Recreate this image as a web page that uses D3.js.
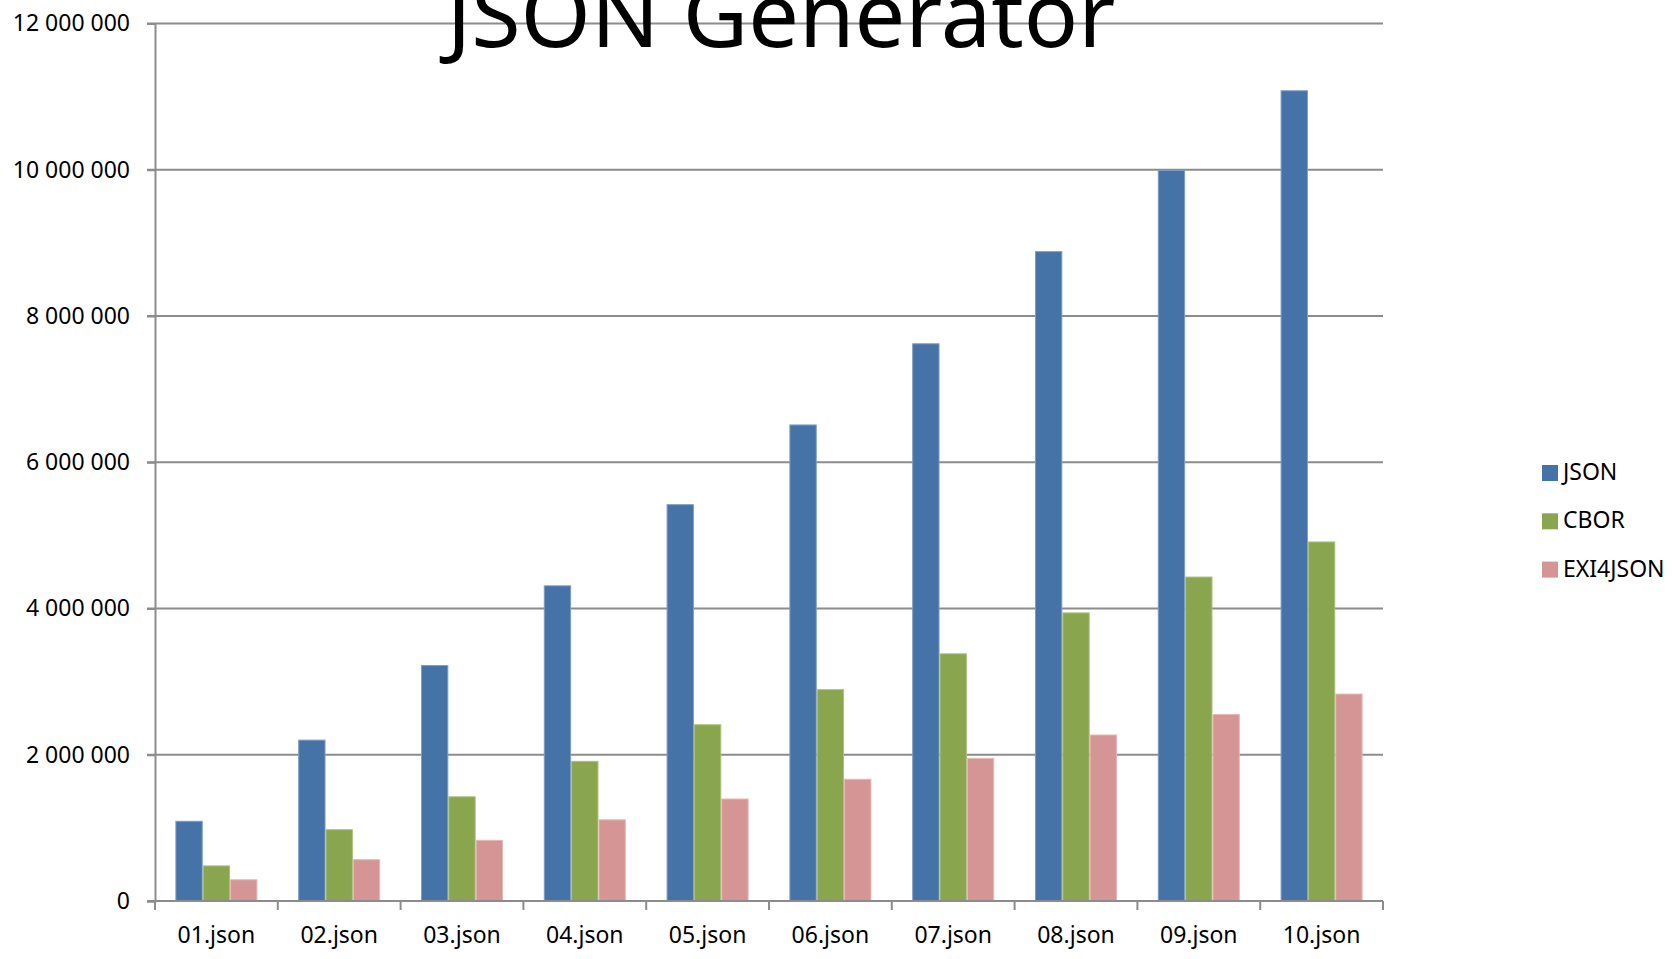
<!DOCTYPE html>
<html>
<head>
<meta charset="utf-8">
<script src="https://cdn.jsdelivr.net/npm/d3@7"></script>
<style>
	body { margin: 0; background: #fff; }
	text { font-family: "Noto Sans", sans-serif; fill: #000; }
</style>
</head>
<body>
<div id="chart"></div>
<script>
(function(){
	var width = 1672,
		height = 959;

	// data
	var files = ["01.json","02.json","03.json","04.json","05.json","06.json","07.json","08.json","09.json","10.json"];
	var series = ["JSON","CBOR","EXI4JSON"];
	var jsonValues = [1090000,2200000,3220000,4310000,5420000,6510000,7620000,8880000,9990000,11080000];
	var cborValues = [480000,975000,1425000,1910000,2410000,2890000,3380000,3940000,4430000,4910000];
	var exiValues = [290000,565000,830000,1110000,1395000,1665000,1950000,2270000,2550000,2830000];
	var yTicks = [0,2000000,4000000,6000000,8000000,10000000,12000000];
	var colors = ["#4572A7","#89A54E","#D49594"];
	var strokes = ["#7F9CC4","#A9C07E","#E6B8B7"];

	var values = [jsonValues, cborValues, exiValues];

	var left = 155, right = 1383, top = 23.5, bottom = 901;

	var svg = d3.select("#chart")
		.append("svg")
		.attr("width", width)
		.attr("height", height)

	var x = d3.scaleBand().domain(files).range([left, right])
	var xInner = d3.scaleBand().domain(series)
		.range([x.bandwidth()*0.166, x.bandwidth()*0.834])
	var y = d3.scaleLinear().domain([0, 12000000]).range([bottom, top])

	var fmt = function(d){ return d3.format(",")(d).replace(/,/g, " ") }

	// gridlines
	svg.append("g")
		.selectAll("line")
		.data(yTicks.filter(function(d){ return d > 0 }))
		.enter().append("line")
		.attr("x1", left - 8)
		.attr("x2", right)
		.attr("y1", function(d){ return y(d) })
		.attr("y2", function(d){ return y(d) })
		.attr("stroke", "#8c8c8c")
		.attr("stroke-width", 2)

	// bars
	var groups = svg.append("g")
		.selectAll("g")
		.data(files)
		.enter().append("g")
		.attr("transform", function(d){ return "translate(" + x(d) + ",0)" })

	groups.selectAll("rect")
		.data(function(d, i){
			return series.map(function(s, j){ return {s: s, j: j, v: values[j][i]} })
		})
		.enter().append("rect")
		.attr("x", function(d){ return xInner(d.s) + 0.5 })
		.attr("width", xInner.bandwidth() - 1)
		.attr("y", function(d){ return y(d.v) })
		.attr("height", function(d){ return bottom - y(d.v) })
		.attr("fill", function(d){ return colors[d.j] })
		.attr("stroke", function(d){ return strokes[d.j] })
		.attr("stroke-width", 1)

	// y axis
	var yAxis = svg.append("g")
		.attr("transform", "translate(" + left + ",0)")
		.call(d3.axisLeft(y).tickValues(yTicks).tickFormat(fmt).tickSize(8).tickPadding(17))
	yAxis.select(".domain").attr("stroke", "#8c8c8c").attr("stroke-width", 2)
	yAxis.selectAll(".tick line").attr("stroke", "#8c8c8c").attr("stroke-width", 2)
	yAxis.selectAll("text")
		.style("font-size", "23px")
		.style("font-family", "'Noto Sans', sans-serif")
		.attr("fill", "#000")

	// x axis
	var xAxis = svg.append("g")
		.attr("transform", "translate(0," + bottom + ")")
	xAxis.append("line")
		.attr("x1", left - 8).attr("x2", right)
		.attr("stroke", "#8c8c8c").attr("stroke-width", 2)
	xAxis.selectAll(".sep")
		.data(files.concat(["end"]))
		.enter().append("line")
		.attr("class", "sep")
		.attr("x1", function(d, i){ return left + i*x.step() })
		.attr("x2", function(d, i){ return left + i*x.step() })
		.attr("y1", 0).attr("y2", 9)
		.attr("stroke", "#8c8c8c").attr("stroke-width", 2)
	xAxis.selectAll(".lbl")
		.data(files)
		.enter().append("text")
		.attr("class", "lbl")
		.attr("x", function(d){ return x(d) + x.bandwidth()/2 })
		.attr("y", 42)
		.attr("text-anchor", "middle")
		.style("font-size", "23px")
		.text(function(d){ return d })

	// title (cut off at the top, as in the original)
	svg.append("text")
		.attr("x", 781)
		.attr("y", 47)
		.attr("text-anchor", "middle")
		.style("font-size", "90px")
		.text("JSON Generator")

	// legend
	var legend = svg.append("g")
		.selectAll("g")
		.data(series)
		.enter().append("g")
		.attr("transform", function(d, i){ return "translate(1542," + (465 + i*48.3) + ")" })
	legend.append("rect")
		.attr("width", 16).attr("height", 16)
		.attr("fill", function(d, i){ return colors[i] })
	legend.append("text")
		.attr("x", 21)
		.attr("y", 15)
		.style("font-size", "23px")
		.text(function(d){ return d })

})();
</script>
</body>
</html>
